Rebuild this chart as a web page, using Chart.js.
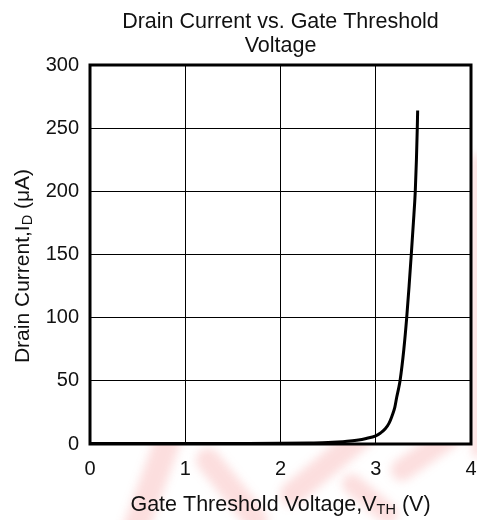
<!DOCTYPE html>
<html>
<head>
<meta charset="utf-8">
<script src="https://cdn.jsdelivr.net/npm/chart.js@4/dist/chart.umd.min.js"></script>
<style>
  html, body { margin: 0; padding: 0; background: #fff; }
  #wrap { width: 477px; height: 520px; }
</style>
</head>
<body>
<div id="wrap"><canvas id="c" width="477" height="520"></canvas></div>
<script>
// ---- data ----
const gateVoltage = [0, 0.5, 1, 1.5, 2, 2.3, 2.5, 2.6, 2.7, 2.8, 2.9, 3.0, 3.05, 3.1, 3.14, 3.17, 3.2, 3.22, 3.24, 3.255, 3.295, 3.325, 3.35, 3.373, 3.395, 3.415, 3.427, 3.436, 3.44];
const drainCurrent = [0.3, 0.3, 0.3, 0.4, 0.5, 0.8, 1.1, 1.5, 2.1, 3.0, 4.4, 6.5, 8.7, 12, 16.5, 22, 29, 37, 44, 50, 75, 100, 125, 150, 175, 200, 225, 250, 264];
const xTicks = [0, 1, 2, 3, 4];
const yTicks = [0, 50, 100, 150, 200, 250, 300];
const titleLines = ['Drain Current vs. Gate Threshold', 'Voltage'];
const xTitle = ['Gate Threshold Voltage,V', 'TH', ' (V)'];
const yTitle = ['Drain Current,I', 'D', ' (\u03BCA)'];

const FONT = '"Liberation Sans", Arial, Helvetica, sans-serif';

const points = gateVoltage.map((v, i) => ({ x: v, y: drainCurrent[i] }));

function drawSubText(ctx, parts, size, subSize, cx, baseY) {
  ctx.font = size + 'px ' + FONT;
  const w0 = ctx.measureText(parts[0]).width;
  const w2 = ctx.measureText(parts[2]).width;
  ctx.font = subSize + 'px ' + FONT;
  const w1 = ctx.measureText(parts[1]).width;
  const total = w0 + w1 + w2;
  let x = cx - total / 2;
  ctx.textAlign = 'left';
  ctx.textBaseline = 'alphabetic';
  ctx.font = size + 'px ' + FONT;
  ctx.fillText(parts[0], x, baseY); x += w0;
  ctx.font = subSize + 'px ' + FONT;
  ctx.fillText(parts[1], x, baseY + 3); x += w1;
  ctx.font = size + 'px ' + FONT;
  ctx.fillText(parts[2], x, baseY);
}

const decor = {
  id: 'decor',
  beforeDraw(chart) {
    const ctx = chart.ctx;
    const a = chart.chartArea;
    ctx.save();
    ctx.fillStyle = '#fff';
    ctx.fillRect(0, 0, chart.width, chart.height);
    // faint watermark strokes
    ctx.lineCap = 'round';
    ctx.filter = 'blur(5px)';
    ctx.strokeStyle = 'rgba(240,90,90,0.2)';
    const strokes = [
      [[168, 440], [136, 528], 26],
      [[208, 460], [256, 520], 24],
      [[292, 494], [362, 436], 24],
      [[352, 484], [388, 514], 20],
      [[402, 470], [448, 438], 22],
      [[478, 160], [478, 452], 12]
    ];
    strokes.forEach(s => {
      ctx.lineWidth = s[2];
      ctx.beginPath();
      ctx.moveTo(s[0][0], s[0][1]);
      ctx.lineTo(s[1][0], s[1][1]);
      ctx.stroke();
    });
    ctx.filter = 'none';
    ctx.fillStyle = '#fff';
    ctx.fillRect(a.left, a.top, a.right - a.left, a.bottom - a.top);
    ctx.restore();
  },
  afterDraw(chart) {
    const ctx = chart.ctx;
    const a = chart.chartArea;
    ctx.save();
    ctx.strokeStyle = '#000';
    ctx.lineWidth = 3;
    ctx.strokeRect(a.left, a.top, a.right - a.left, a.bottom - a.top);
    const cx = (a.left + a.right) / 2;
    ctx.fillStyle = '#111';
    ctx.textAlign = 'center';
    ctx.textBaseline = 'alphabetic';
    ctx.font = '21.5px ' + FONT;
    ctx.fillText(titleLines[0], cx, 28);
    ctx.fillText(titleLines[1], cx, 52);
    drawSubText(ctx, xTitle, 21.5, 14.5, cx, 511);
    ctx.save();
    ctx.translate(29, 266);
    ctx.rotate(-Math.PI / 2);
    drawSubText(ctx, yTitle, 21, 14.5, 0, 0);
    ctx.restore();
    ctx.restore();
  }
};

new Chart(document.getElementById('c'), {
  type: 'line',
  data: {
    datasets: [{
      data: points,
      borderColor: '#000',
      borderWidth: 3,
      pointRadius: 0,
      fill: false,
      cubicInterpolationMode: 'monotone'
    }]
  },
  options: {
    responsive: false,
    animation: false,
    devicePixelRatio: 1,
    layout: { padding: { left: 0, right: 6, top: 65, bottom: 0 } },
    plugins: { legend: { display: false }, title: { display: false }, tooltip: { enabled: false } },
    scales: {
      x: {
        type: 'linear',
        min: xTicks[0],
        max: xTicks[xTicks.length - 1],
        afterFit(s) { s.height = 76; s.paddingLeft = 0; s.paddingRight = 0; },
        afterBuildTicks(s) { s.ticks = xTicks.map(v => ({ value: v })); },
        grid: { color: '#000', lineWidth: 1, drawTicks: false },
        border: { display: false },
        ticks: { color: '#111', font: { family: FONT, size: 20 }, padding: 13, maxRotation: 0 }
      },
      y: {
        min: yTicks[0],
        max: yTicks[yTicks.length - 1],
        afterFit(s) { s.width = 90; s.paddingTop = 0; s.paddingBottom = 0; },
        afterBuildTicks(s) { s.ticks = yTicks.map(v => ({ value: v })); },
        grid: { color: '#000', lineWidth: 1, drawTicks: false },
        border: { display: false },
        ticks: { color: '#111', font: { family: FONT, size: 20 }, padding: 11 }
      }
    }
  },
  plugins: [decor]
});
</script>
</body>
</html>
